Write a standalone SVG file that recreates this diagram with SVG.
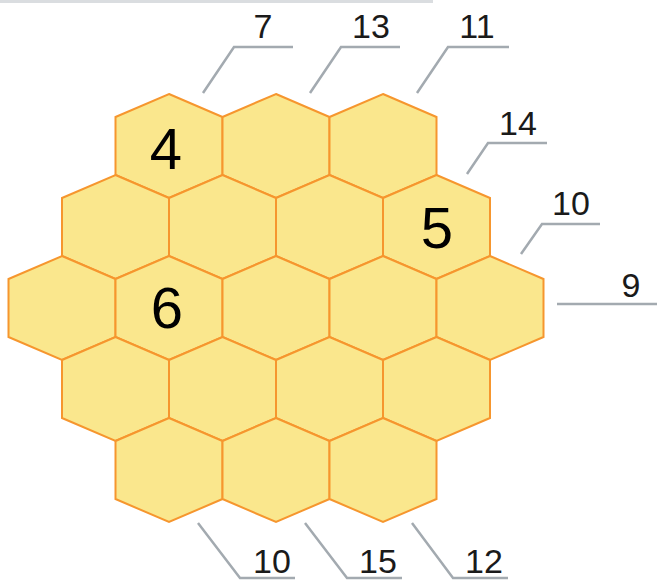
<svg xmlns="http://www.w3.org/2000/svg" width="657" height="581" viewBox="0 0 657 581">
<style>
.h{fill:#FAE78D;stroke:#F6962E;stroke-width:2;stroke-linejoin:miter}
.n{font-family:"Liberation Sans",Arial,sans-serif;font-size:58px;fill:#000;text-anchor:middle}
.l{font-family:"Liberation Sans",Arial,sans-serif;font-size:34px;fill:#1a1a1a;text-anchor:middle}
.c{fill:none;stroke:#A3AAB0;stroke-width:2.5}
</style>
<defs>
<polygon id="hex" points="0,-52 53.5,-29 53.5,29 0,52 -53.5,29 -53.5,-29"/>
</defs>
<rect x="0" y="0" width="433" height="3" fill="#DADDE0"/>
<g id="cells">
<g id="r1c1"><use href="#hex" class="h" x="169" y="146"/><text class="n" x="166" y="169">4</text></g>
<g id="r1c2"><use href="#hex" class="h" x="276" y="146"/></g>
<g id="r1c3"><use href="#hex" class="h" x="383" y="146"/></g>
<g id="r2c1"><use href="#hex" class="h" x="115.5" y="227"/></g>
<g id="r2c2"><use href="#hex" class="h" x="222.5" y="227"/></g>
<g id="r2c3"><use href="#hex" class="h" x="329.5" y="227"/></g>
<g id="r2c4"><use href="#hex" class="h" x="436.5" y="227"/><text class="n" x="437" y="248">5</text></g>
<g id="r3c1"><use href="#hex" class="h" x="62" y="308"/></g>
<g id="r3c2"><use href="#hex" class="h" x="169" y="308"/><text class="n" x="167" y="328">6</text></g>
<g id="r3c3"><use href="#hex" class="h" x="276" y="308"/></g>
<g id="r3c4"><use href="#hex" class="h" x="383" y="308"/></g>
<g id="r3c5"><use href="#hex" class="h" x="490" y="308"/></g>
<g id="r4c1"><use href="#hex" class="h" x="115.5" y="389"/></g>
<g id="r4c2"><use href="#hex" class="h" x="222.5" y="389"/></g>
<g id="r4c3"><use href="#hex" class="h" x="329.5" y="389"/></g>
<g id="r4c4"><use href="#hex" class="h" x="436.5" y="389"/></g>
<g id="r5c1"><use href="#hex" class="h" x="169" y="470"/></g>
<g id="r5c2"><use href="#hex" class="h" x="276" y="470"/></g>
<g id="r5c3"><use href="#hex" class="h" x="383" y="470"/></g>
</g>
<g id="connectors">
<polyline class="c" points="203,93 234,47 293,47"/>
<polyline class="c" points="310,93 341,47 400,47"/>
<polyline class="c" points="417,93 448,47 509,47"/>
<polyline class="c" points="467,174 488,143 547,143"/>
<polyline class="c" points="521,254 542,224 600,224"/>
<polyline class="c" points="557,304 657,304"/>
<polyline class="c" points="198,523 240,578 295,578"/>
<polyline class="c" points="305,523 347,578 402,578"/>
<polyline class="c" points="412,523 453,578 508,578"/>
</g>
<g id="labels">
<text class="l" x="263" y="38">7</text>
<text class="l" x="371" y="38">13</text>
<text class="l" x="477" y="38">11</text>
<text class="l" x="518" y="135">14</text>
<text class="l" x="571" y="215">10</text>
<text class="l" x="631" y="297">9</text>
<text class="l" x="272" y="573">10</text>
<text class="l" x="378" y="573">15</text>
<text class="l" x="484" y="573">12</text>
</g>
</svg>
